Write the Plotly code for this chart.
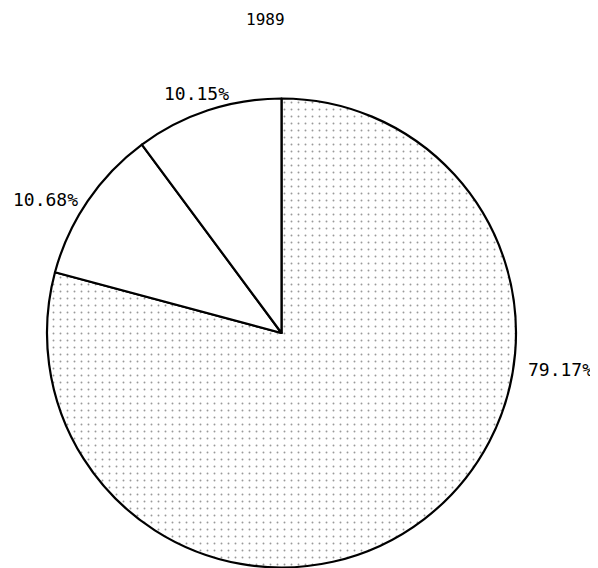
import plotly.graph_objects as go

title_text = "1989"
slice_names = ["A", "B", "C"]
slice_values = [79.17, 10.68, 10.15]
slice_labels = ["79.17%", "10.68%", "10.15%"]
label_pos = [(0.9231, 0.3627), (0.0635, 0.662), (0.3144, 0.8486)]

fig = go.Figure(go.Pie(
    labels=slice_names,
    values=slice_values,
    sort=False,
    direction="clockwise",
    rotation=0,
    textinfo="none",
    hoverinfo="label+percent",
    marker=dict(
        colors=["white", "white", "white"],
        line=dict(color="black", width=2.2),
        pattern=dict(shape=[".", "", ""], fgcolor="#333333", bgcolor="white",
                     size=7, solidity=0.06, fillmode="overlay"),
    ),
    domain=dict(x=[0.0652, 0.8495], y=[0.0150, 0.8407]),
    showlegend=False,
))

font = dict(family="DejaVu Sans Mono", size=18, color="black")
ann = [dict(text=title_text, x=0.4314, y=0.979, xref="paper", yref="paper",
            xanchor="center", yanchor="middle", showarrow=False,
            font=dict(family="DejaVu Sans Mono", size=16, color="black"))]
for t, (x, y) in zip(slice_labels, label_pos):
    ann.append(dict(text=t, x=x, y=y, xref="paper", yref="paper",
                    xanchor="center", yanchor="middle",
                    showarrow=False, font=font))

fig.update_layout(
    width=598, height=568,
    margin=dict(l=0, r=0, t=0, b=0),
    paper_bgcolor="white",
    plot_bgcolor="white",
    annotations=ann,
)
fig.write_html("out.html")
